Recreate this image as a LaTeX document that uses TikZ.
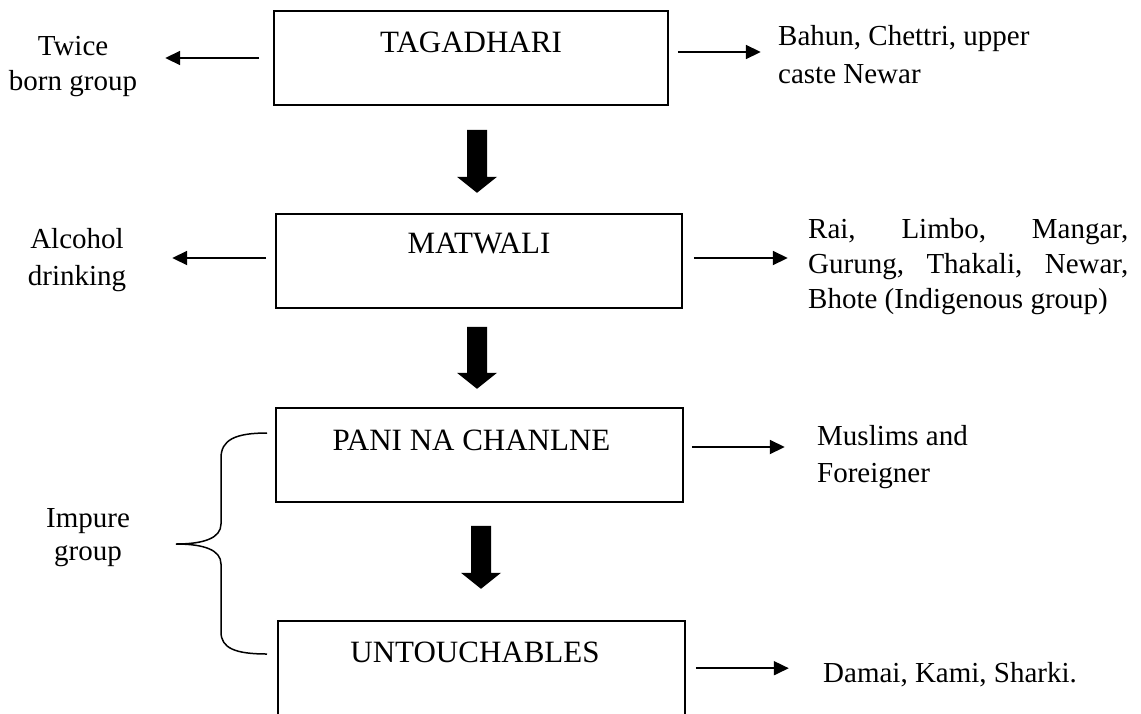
\documentclass[tikz,border=0pt]{standalone}
\usepackage{fontspec}
\setmainfont{Liberation Serif}
\usetikzlibrary{arrows.meta,calc}

% solid downward block arrow between two named points (shaft top, tip)
\newcommand{\blockdown}[2]{%
  \fill ($(#1)+(-10,0)$) -- ($(#1)+(10,0)$) -- ($(#2)+(10,-16)$) -- ($(#2)+(20,-16)$)
        -- (#2) -- ($(#2)+(-20,-16)$) -- ($(#2)+(-10,-16)$) -- cycle;}

\begin{document}
\begin{tikzpicture}[x=1pt,y=-1pt,
  box/.style={draw, line width=1.6pt, inner xsep=0pt, inner ysep=0pt, anchor=base,
              font=\fontsize{31}{36}\selectfont},
  side/.style={inner sep=0pt, font=\fontsize{29}{35}\selectfont},
  sidearrow/.style={line width=1.8pt, -{Triangle[length=15pt,width=14pt]}},
  brace/.style={line width=1.5pt}
]
\useasboundingbox (0,0) rectangle (1141,713);
\fill[white] (0,0) rectangle (1141,713);
\clip (0,0) rectangle (1141,713);

% caste boxes
\node[box, minimum width=394pt, text height=41pt, text depth=53pt] (b1) at (471,52) {TAGADHARI};
\node[box, minimum width=406pt, text height=39pt, text depth=55pt] (b2) at (479,253) {MATWALI};
\node[box, minimum width=407pt, text height=42pt, text depth=52pt] (b3) at (479.5,450) {PANI NA CHANLNE\hspace*{16pt}};
\node[box, minimum width=407pt, text height=41pt, text depth=110pt] (b4) at (481.5,662) {UNTOUCHABLES\hspace*{13pt}};

% descriptions on the left (placed by the baseline of their last line)
\node[side, align=center, anchor=base, font=\fontsize{29}{35}\selectfont] (l1) at (73,90) {Twice\\born group};
\node[side, align=center, anchor=base, font=\fontsize{29}{37}\selectfont] (l2) at (77,285) {Alcohol\\drinking};
\node[side, align=center, anchor=base, font=\fontsize{29}{33}\selectfont] (l3) at (88,560) {Impure\\group};

% member groups on the right
\node[side, align=left, anchor=base west, font=\fontsize{29}{38}\selectfont] (r1) at (778,83) {Bahun, Chettri, upper\\caste Newar};
\node[side, text width=320pt, align=justify, anchor=base west, font=\fontsize{29}{35}\selectfont] (r2) at (808,238)
  {Rai, Limbo, Mangar,\linebreak Gurung, Thakali, Newar,\linebreak Bhote (Indigenous group)};
\node[side, align=left, anchor=base west, font=\fontsize{29}{37}\selectfont] (r3) at (817,482) {Muslims and\\Foreigner};
\node[side, anchor=base west] (r4) at (823,682) {Damai, Kami, Sharki.};

% side arrows
\draw[sidearrow] ([xshift=-14pt]b1.west) -- ++(-94,0);
\draw[sidearrow] ([xshift=9pt,yshift=6pt]b1.east) -- ++(83,0);
\draw[sidearrow] ([xshift=-9pt,yshift=3pt]b2.west) -- ++(-94,0);
\draw[sidearrow] ([xshift=11pt,yshift=3pt]b2.east) -- ++(94,0);
\draw[sidearrow] ([xshift=8pt,yshift=8pt]b3.east) -- ++(93,0);
\draw[sidearrow] ([xshift=10pt,yshift=-48pt]b4.north east) -- ++(93,0);

% block arrows between the boxes
\coordinate (d1s) at ($(b1.south)+(6,24)$);
\coordinate (d1e) at ($(b1.south)+(6,87)$);
\coordinate (d2s) at ($(b2.south)+(-2,18)$);
\coordinate (d2e) at ($(b2.south)+(-2,80)$);
\coordinate (d3s) at ($(b3.south)+(1.5,23)$);
\coordinate (d3e) at ($(b3.south)+(1.5,86)$);
\blockdown{d1s}{d1e}
\blockdown{d2s}{d2e}
\blockdown{d3s}{d3e}

% brace grouping the two lowest boxes
\draw[brace] (267,433) .. controls (235,433) and (221,440) .. (221,458) -- (221,524)
  .. controls (221,538) and (204,544) .. (176,544)
  .. controls (204,544) and (221,550) .. (221,564) -- (221,632)
  .. controls (221,648) and (235,654) .. (267,654);
\end{tikzpicture}
\end{document}
